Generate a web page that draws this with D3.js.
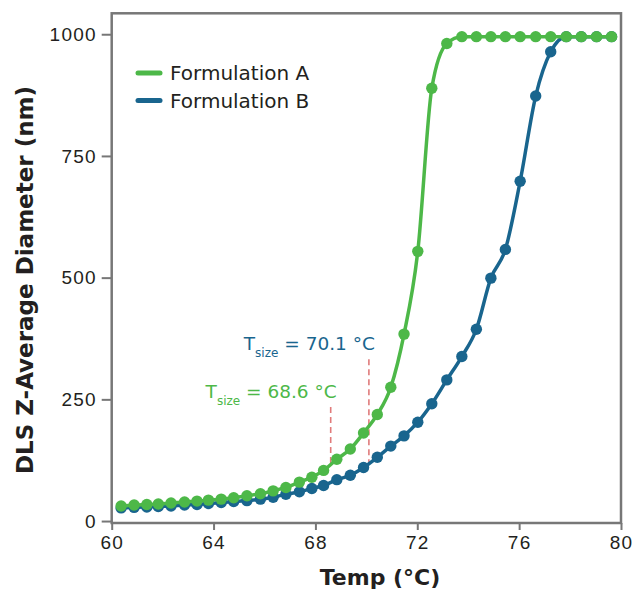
<!DOCTYPE html>
<html>
<head>
<meta charset="utf-8">
<script src="https://cdn.jsdelivr.net/npm/d3@7"></script>
<style>
  body { margin: 0; background: #fff; }
  svg { display: block; font-family: "DejaVu Sans", sans-serif; }
</style>
</head>
<body>
<div id="chart"></div>
<script>
// temperatures (°C) shared by both series
const temps = [60.37, 60.88, 61.38, 61.83, 62.33, 62.86, 63.35, 63.80, 64.30, 64.79,
  65.31, 65.84, 66.34, 66.84, 67.37, 67.86, 68.32, 68.84, 69.37, 69.89,
  70.43, 70.96, 71.48, 72.02, 72.57, 73.16, 73.75, 74.32, 74.89, 75.46,
  76.04, 76.65, 77.24, 77.85, 78.44, 79.04, 79.63];

// Z-average diameter (nm)
const formulationA = [31, 33, 34, 35, 37, 39, 41, 43, 45, 48,
  52, 56, 62, 69, 80, 90, 104, 127, 148, 181,
  219, 275, 384, 554, 889, 981, 995, 995, 995, 995,
  995, 995, 995, 995, 995, 995, 995];
const formulationB = [27, 28, 29, 30, 31, 33, 34, 36, 38, 40,
  42, 45, 49, 55, 60, 67, 73, 85, 94, 110,
  131, 154, 175, 203, 241, 290, 338, 394, 499, 558,
  698, 873, 964, 995, 995, 995, 995];

const seriesNames = ['Formulation A', 'Formulation B'];
const seriesColors = ['#4db848', '#19658e'];

const xTicks = [60, 64, 68, 72, 76, 80];
const yTicks = [0, 250, 500, 750, 1000];

// T_size annotations: temperature, label
const tsizeTemps = [68.6, 70.1];
const tsizeLabels = ['68.6 °C', '70.1 °C'];
const tsizeLabelY = [253, 351];

const width = 638;
const height = 590;
const margin = {top: 13.3, right: 17, bottom: 67, left: 111.7};

const svg = d3.select('#chart')
  .append('svg')
  .attr('width', width)
  .attr('height', height);

const x = d3.scaleLinear()
  .domain([60, 80])
  .range([margin.left, width - margin.right]);

const y = d3.scaleLinear()
  .domain([-4, 1043])
  .range([height - margin.bottom, margin.top]);

const series = [formulationA, formulationB].map((vals, i) => ({
  name: seriesNames[i],
  color: seriesColors[i],
  points: temps.map((t, j) => ({t: t, v: vals[j]}))
}));

// axes
const xAxis = svg.append('g')
  .attr('transform', `translate(0, ${height - margin.bottom})`)
  .call(d3.axisBottom(x).tickValues(xTicks).tickSize(7).tickSizeOuter(0).tickPadding(6));

const yAxis = svg.append('g')
  .attr('transform', `translate(${margin.left}, 0)`)
  .call(d3.axisLeft(y).tickValues(yTicks).tickFormat(d3.format('d')).tickSize(10).tickPadding(5).tickSizeOuter(0));

[xAxis, yAxis].forEach(ax => {
  ax.select('.domain').remove();
  ax.selectAll('.tick line')
    .attr('stroke', '#777')
    .attr('stroke-width', 2);
  ax.selectAll('.tick text')
    .attr('fill', '#231f20')
    .style('font-size', '19px')
    .style('letter-spacing', '1.2px');
});

// frame
svg.append('rect')
  .attr('x', margin.left)
  .attr('y', margin.top)
  .attr('width', width - margin.left - margin.right)
  .attr('height', height - margin.top - margin.bottom)
  .attr('fill', 'none')
  .attr('stroke', '#777')
  .attr('stroke-width', 2.5);

// axis titles
svg.append('text')
  .attr('x', 380)
  .attr('y', 585)
  .attr('text-anchor', 'middle')
  .attr('fill', '#231f20')
  .style('font-size', '22px')
  .style('font-weight', 'bold')
  .text('Temp (°C)');

svg.append('text')
  .attr('transform', 'translate(33, 280) rotate(-90)')
  .attr('text-anchor', 'middle')
  .attr('fill', '#231f20')
  .style('font-size', '23px')
  .style('font-weight', 'bold')
  .text('DLS Z-Average Diameter (nm)');

// dashed markers at T_size
const line = d3.line()
  .x(d => x(d.t))
  .y(d => y(d.v))
  .curve(d3.curveMonotoneX);

const valueAt = (pts, t) => {
  const i = d3.bisector(d => d.t).left(pts, t);
  const a = pts[i - 1], b = pts[i];
  return a.v + (b.v - a.v) * (t - a.t) / (b.t - a.t);
};

tsizeTemps.forEach((t, i) => {
  svg.append('line')
    .attr('x1', x(t))
    .attr('x2', x(t))
    .attr('y1', y(tsizeLabelY[i]) + 9)
    .attr('y2', y(valueAt(series[i].points, t)))
    .attr('stroke', '#e07b7b')
    .attr('stroke-width', 1.6)
    .attr('stroke-dasharray', '6,4');
});

// series
const g = svg.append('g');

series.slice().reverse().forEach(s => {
  g.append('path')
    .datum(s.points)
    .attr('fill', 'none')
    .attr('stroke', s.color)
    .attr('stroke-width', 3.5)
    .attr('d', line);

  g.selectAll(null)
    .data(s.points)
    .enter().append('circle')
    .attr('cx', d => x(d.t))
    .attr('cy', d => y(d.v))
    .attr('r', 5.7)
    .attr('fill', s.color);
});

// T_size labels
tsizeTemps.forEach((t, i) => {
  const label = svg.append('text')
    .attr('x', x(t) + 6)
    .attr('y', y(tsizeLabelY[i]))
    .attr('text-anchor', 'end')
    .attr('fill', seriesColors[i])
    .style('font-size', '18.5px');
  label.append('tspan').text('T');
  label.append('tspan')
    .attr('dy', 7)
    .style('font-size', '12px')
    .text('size');
  label.append('tspan')
    .attr('dy', -7)
    .text(' = ' + tsizeLabels[i]);
});

// legend
const legend = svg.append('g')
  .attr('transform', 'translate(138, 73)');

const item = legend.selectAll('.item')
  .data(series)
  .enter().append('g')
  .attr('class', 'item')
  .attr('transform', (d, i) => `translate(0, ${i * 27.5})`);

item.append('line')
  .attr('x1', 0)
  .attr('x2', 22)
  .attr('stroke', d => d.color)
  .attr('stroke-width', 5)
  .attr('stroke-linecap', 'round');

item.append('text')
  .attr('x', 32)
  .attr('dy', '0.35em')
  .attr('fill', '#231f20')
  .style('font-size', '20px')
  .text(d => d.name);
</script>
</body>
</html>
